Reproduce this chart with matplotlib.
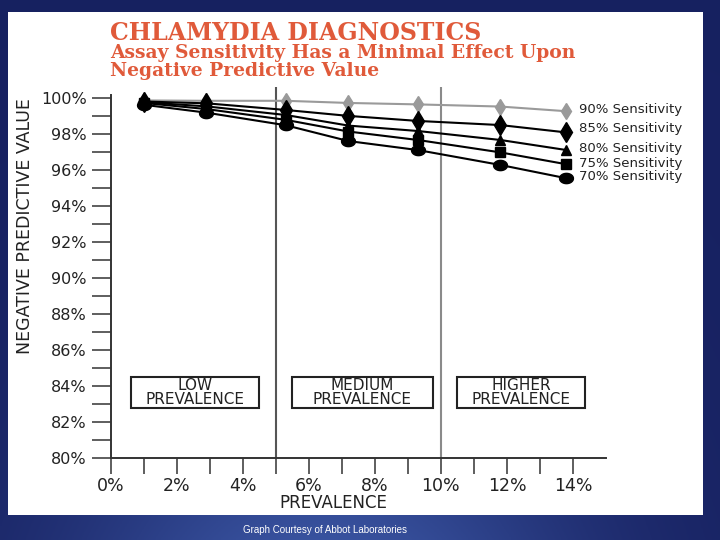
import numpy as np
import matplotlib
matplotlib.use("Agg")
import matplotlib.pyplot as plt
from matplotlib.patches import Rectangle

# values (prevalence %, NPV %)
prevalence = [1.0, 2.9, 5.3, 7.2, 9.3, 11.8, 13.8]
npv_90 = [99.88, 99.86, 99.86, 99.74, 99.66, 99.54, 99.28]
npv_85 = [99.82, 99.72, 99.35, 99.02, 98.74, 98.51, 98.10]
npv_80 = [99.78, 99.55, 99.07, 98.48, 98.18, 97.68, 97.12]
npv_75 = [99.74, 99.40, 98.80, 98.15, 97.68, 96.99, 96.33]
npv_70 = [99.64, 99.20, 98.50, 97.62, 97.12, 96.29, 95.55]
series_labels = ["90% Sensitivity", "85% Sensitivity", "80% Sensitivity",
                 "75% Sensitivity", "70% Sensitivity"]
zone_labels = ["LOW\nPREVALENCE", "MEDIUM\nPREVALENCE", "HIGHER\nPREVALENCE"]
zone_edges = [(0.6, 4.5), (5.5, 9.75), (10.5, 14.35)]

W, H = 720, 540
fig = plt.figure(figsize=(7.2, 5.4), dpi=100)

# slide background (dark blue gradient) + white panel
bg = fig.add_axes([0, 0, 1, 1], zorder=-10)
yy, xx = np.mgrid[0:1:200j, 0:1:300j]
top = np.array([0.09, 0.13, 0.38])
bot = np.array([0.22, 0.32, 0.62])
glow = np.exp(-((xx - 0.45) / 0.35) ** 2)
t = (yy ** 2)[..., None] * glow[..., None]
grad = top * (1 - t) + bot * t
bg.imshow(grad, extent=[0, 1, 0, 1], aspect="auto", origin="upper")
bg.add_patch(Rectangle((8 / W, 1 - 515 / H), (703 - 8) / W, (515 - 12) / H,
                       facecolor="white", edgecolor="none"))
bg.set_xlim(0, 1)
bg.set_ylim(0, 1)
bg.axis("off")

title_col = "#e05a3a"
fig.text(110 / W, 1 - 40 / H, "CHLAMYDIA DIAGNOSTICS", family="DejaVu Serif",
         weight="bold", fontsize=17, color=title_col, va="baseline")
fig.text(110 / W, 1 - 57.5 / H, "Assay Sensitivity Has a Minimal Effect Upon",
         family="DejaVu Serif", weight="bold", fontsize=13.5, color=title_col,
         va="baseline")
fig.text(110 / W, 1 - 75.5 / H, "Negative Predictive Value",
         family="DejaVu Serif", weight="bold", fontsize=13.5, color=title_col,
         va="baseline")

ax = fig.add_axes([110.7 / W, 1 - 457.7 / H, (606 - 110.7) / W, (457.7 - 87.5) / H])
ax.patch.set_alpha(0)
ax.set_xlim(0, 15)
ax.set_ylim(80, 100.6)

for s in ["top", "right"]:
    ax.spines[s].set_visible(False)
ax.spines["left"].set_bounds(80, 100.2)
for s in ["left", "bottom"]:
    ax.spines[s].set_color("#333333")
    ax.spines[s].set_linewidth(1.4)

ax.set_xticks(np.arange(0, 15, 1))
ax.set_xticklabels([f"{v}%" if v % 2 == 0 else "" for v in range(0, 15)])
ax.set_yticks(np.arange(80, 101, 1))
ax.set_yticklabels([f"{v}%" if v % 2 == 0 else "" for v in range(80, 101)])
ax.tick_params(axis="x", direction="out", length=11.5, width=1.1, color="#333333",
               pad=2.5, labelsize=12.5, labelcolor="#222222")
ax.tick_params(axis="y", direction="out", length=13.7, width=1.1, color="#333333",
               pad=3.5, labelsize=11.5, labelcolor="#222222")

ax.axvline(5, color="#555555", lw=1.5, zorder=1)
ax.axvline(10, color="#8a8a8a", lw=1.5, zorder=1)

ax.plot(prevalence, npv_90, color="#9a9a9a", lw=1.5, marker="d", ms=8.5,
        mfc="#9a9a9a", mec="#9a9a9a", zorder=3)
ax.plot(prevalence, npv_85, color="black", lw=1.5, marker="d", ms=10, zorder=4)
ax.plot(prevalence, npv_80, color="black", lw=1.5, marker="^", ms=7.5, zorder=4)
ax.plot(prevalence, npv_75, color="black", lw=1.5, marker="s", ms=6.5, zorder=4)
ellipse = np.column_stack([1.35 * np.cos(np.linspace(0, 2 * np.pi, 40)),
                           np.sin(np.linspace(0, 2 * np.pi, 40))])
ax.plot(prevalence, npv_70, color="black", lw=1.5, marker=ellipse, ms=10, zorder=4)

label_dy = [1.5, 3, 1, 0.5, 1]
for vals, lab, dy in zip([npv_90, npv_85, npv_80, npv_75, npv_70], series_labels, label_dy):
    ax.annotate(lab, xy=(prevalence[-1], vals[-1]), xytext=(9, dy),
                textcoords="offset points", va="center", ha="left",
                fontsize=9.5, color="#222222", annotation_clip=False)

for (x0, x1), lab in zip(zone_edges, zone_labels):
    ax.add_patch(Rectangle((x0, 82.77), x1 - x0, 1.72, facecolor="white",
                           edgecolor="#222222", lw=1.5, zorder=5))
    ax.text((x0 + x1) / 2, 83.63, lab, ha="center", va="center", fontsize=11,
            linespacing=0.95, color="#222222", zorder=6)

ax.text(6.74, 100 - (503 - 98.3) / 17.97, "PREVALENCE", ha="center", va="center",
        fontsize=12, color="#222222", clip_on=False)
ax.text(-2.6, 92.9, "NEGATIVE PREDICTIVE VALUE", rotation=90, ha="center",
        va="center", fontsize=12.5, color="#222222", clip_on=False)

fig.text(325 / W, 1 - 530 / H, "Graph Courtesy of Abbot Laboratories",
         family=["Liberation Sans", "DejaVu Sans"], fontsize=7, color="white",
         ha="center", va="center")

fig.savefig("out.png", dpi=100)
